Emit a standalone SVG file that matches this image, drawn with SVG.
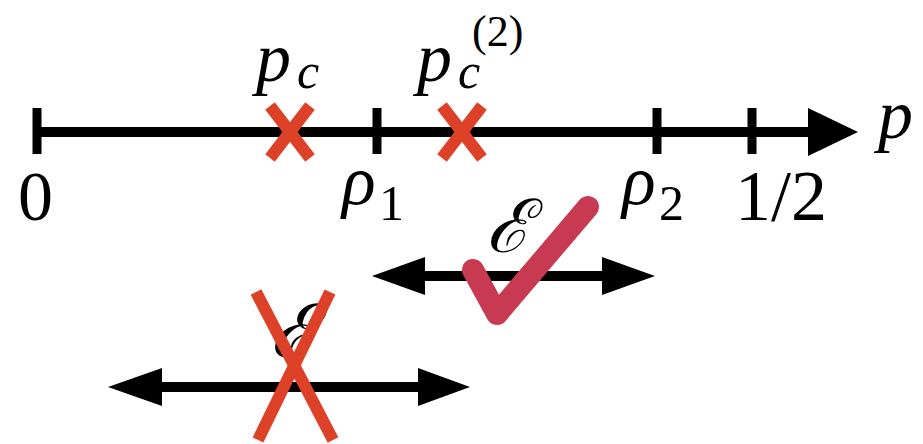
<svg xmlns="http://www.w3.org/2000/svg" width="923" height="444" viewBox="0 0 923 444">
<style>
text{font-family:'Liberation Serif','DejaVu Serif',serif;fill:#000}
.i{font-style:italic}
.ax{stroke:#000;stroke-width:10;fill:none}
.tk{stroke:#000;stroke-width:9}
.rx{stroke:#dd4128;stroke-width:12;stroke-linecap:butt}
.ck{stroke:#c83a52;stroke-width:22;fill:none;stroke-linecap:round;stroke-linejoin:round}
</style>
<g id="connectors">
<line class="ax" x1="33" y1="132" x2="815" y2="132"/>
<path d="M808,108 L858,132 L808,156 Z" fill="#000"/>
<line class="tk" x1="37" y1="108" x2="37" y2="154"/>
<line class="tk" x1="377" y1="108" x2="377" y2="154"/>
<line class="tk" x1="657" y1="108" x2="657" y2="154"/>
<line class="tk" x1="752" y1="108" x2="752" y2="154"/>
<line class="ax" x1="420" y1="276" x2="608" y2="276"/>
<path d="M372,276 L425,257 L425,295 Z" fill="#000"/>
<path d="M655,276 L602,257 L602,295 Z" fill="#000"/>
<line class="ax" x1="155" y1="387" x2="425" y2="387"/>
<path d="M108,387 L162,368 L162,406 Z" fill="#000"/>
<path d="M470,387 L418,368 L418,406 Z" fill="#000"/>
</g>
<g id="pc">
<text class="i" x="256" y="81" font-size="70">p</text>
<text class="i" x="297" y="88" font-size="50">c</text>
<line class="rx" x1="270" y1="106" x2="310" y2="158"/>
<line class="rx" x1="310" y1="106" x2="270" y2="158"/>
</g>
<g id="pc2">
<text class="i" x="417" y="81" font-size="70">p</text>
<text class="i" x="458" y="88" font-size="50">c</text>
<text x="472" y="46" font-size="44">(2)</text>
<line class="rx" x1="442" y1="106" x2="482" y2="158"/>
<line class="rx" x1="482" y1="106" x2="442" y2="158"/>
</g>
<g id="labels">
<text x="18" y="220" font-size="70">0</text>
<text class="i" x="342" y="204" font-size="70">ρ</text>
<text x="379" y="220" font-size="50">1</text>
<text class="i" x="622" y="204" font-size="70">ρ</text>
<text x="659" y="220" font-size="50">2</text>
<text x="735" y="220" font-size="72">1/2</text>
<text class="i" x="878" y="138" font-size="70">p</text>
</g>
<g id="good">
<text class="i" x="486" y="252" font-size="74">ℰ</text>
<path class="ck" d="M473,270 L497,314 L588,207"/>
</g>
<g id="bad">
<text class="i" x="270" y="357" font-size="74">ℰ</text>
<line class="rx" x1="256" y1="292" x2="333" y2="440"/>
<line class="rx" x1="330" y1="292" x2="258" y2="440"/>
</g>
</svg>
